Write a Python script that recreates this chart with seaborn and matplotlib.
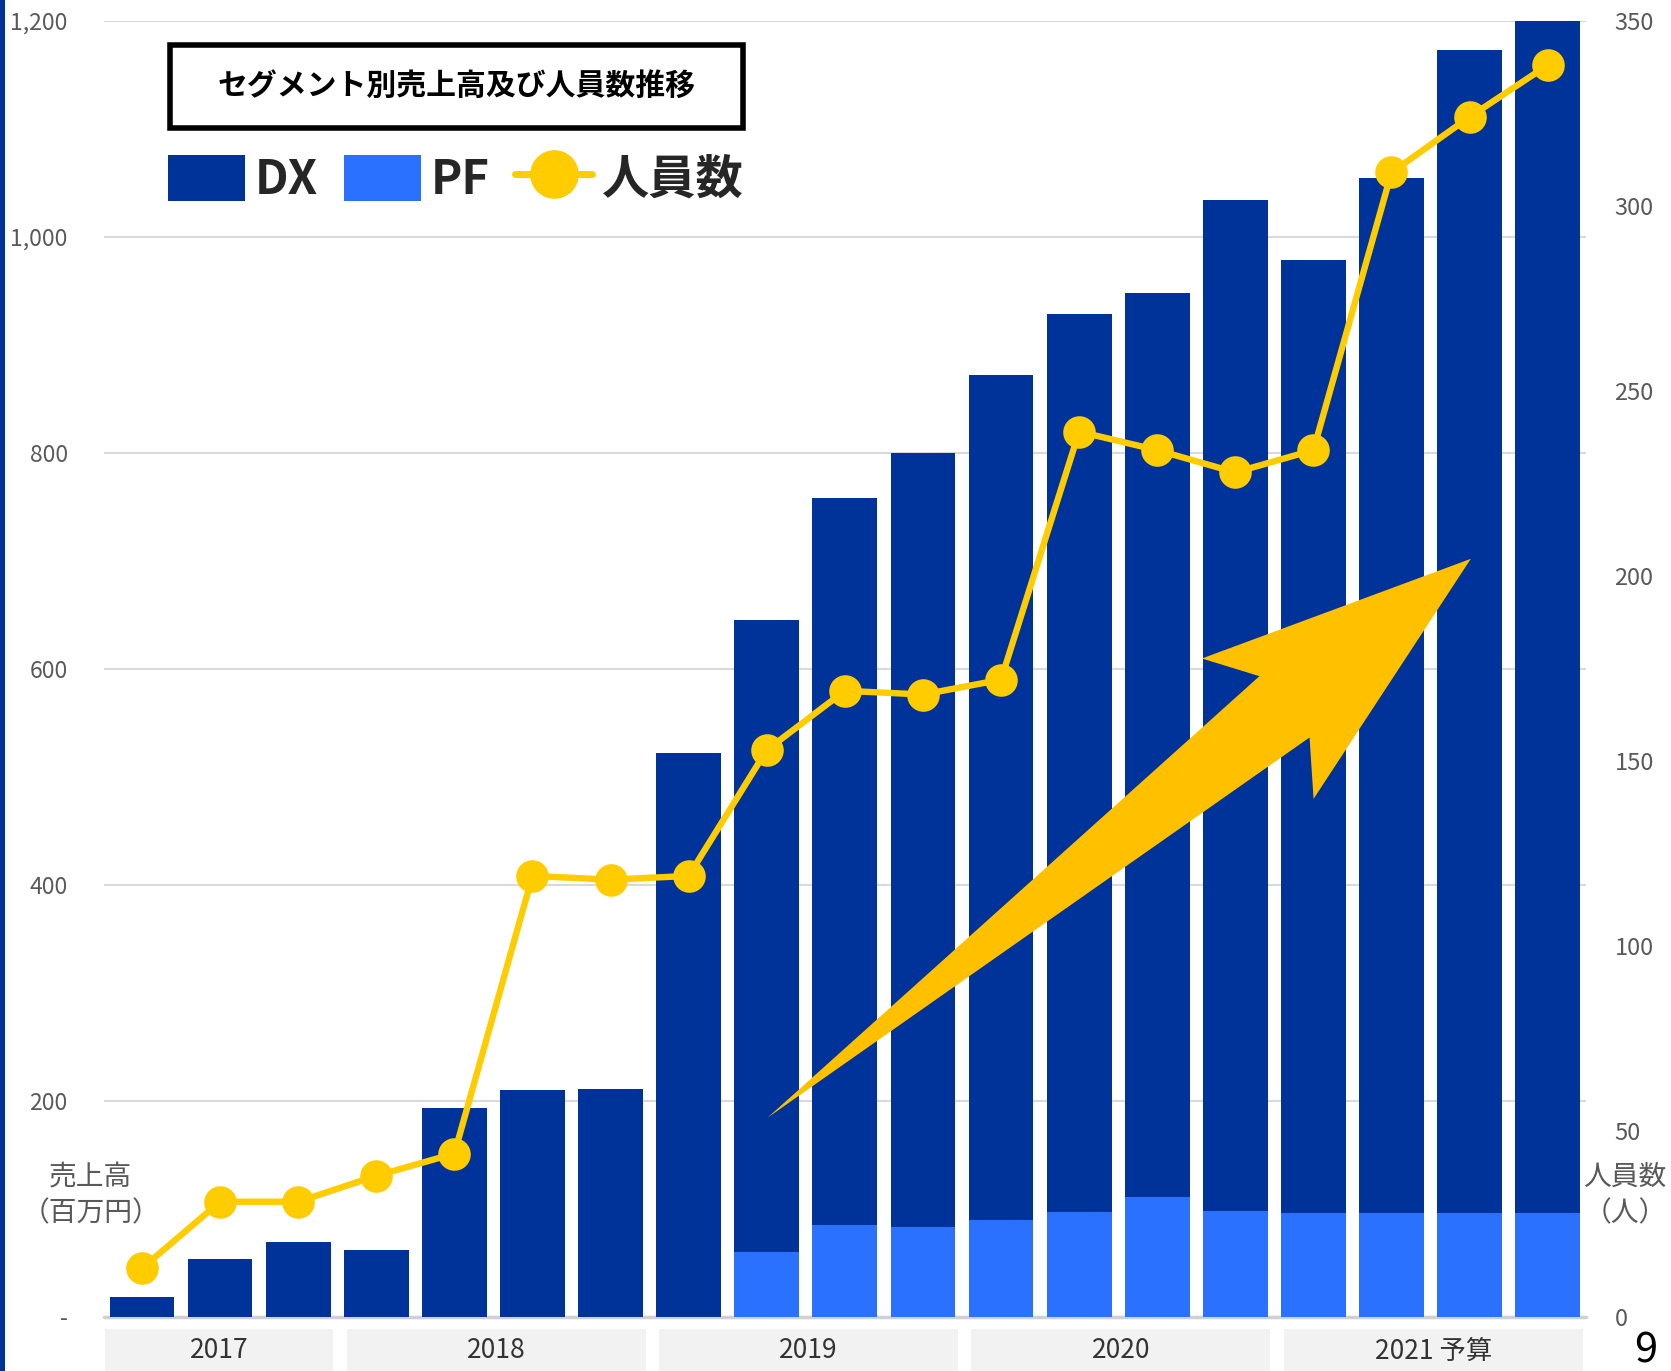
import numpy as np
import pandas as pd
import matplotlib
matplotlib.use("Agg")
import matplotlib.pyplot as plt
from matplotlib.patches import Rectangle, Polygon, Patch
from matplotlib.lines import Line2D
import seaborn as sns

# Quarterly segment sales (million yen) and headcount
periods = [
    "2017Q2", "2017Q3", "2017Q4",
    "2018Q1", "2018Q2", "2018Q3", "2018Q4",
    "2019Q1", "2019Q2", "2019Q3", "2019Q4",
    "2020Q1", "2020Q2", "2020Q3", "2020Q4",
    "2021Q1", "2021Q2", "2021Q3", "2021Q4",
]
dx_sales = [18, 53, 69, 62, 193, 210, 211, 522, 585, 673, 717, 783, 831, 837, 936, 882, 958, 1077, 1104]
pf_sales = [0, 0, 0, 0, 0, 0, 0, 0, 60, 85, 83, 89, 97, 111, 98, 96, 96, 96, 96]
headcount = [13, 31, 31, 38, 44, 119, 118, 119, 153, 169, 168, 172, 239, 234, 228, 234, 309, 324, 338]

year_groups = ["2017", "2018", "2019", "2020", "2021 予算"]
quarters_per_year = [3, 4, 4, 4, 4]

sales_ticks = [0, 200, 400, 600, 800, 1000, 1200]
sales_tick_labels = ["-", "200", "400", "600", "800", "1,000", "1,200"]
staff_ticks = [0, 50, 100, 150, 200, 250, 300, 350]

DX_COLOR = "#003399"
PF_COLOR = "#2B71FF"
LINE_COLOR = "#FFCC00"
ARROW_COLOR = "#FFC000"
TEXT_GRAY = "#595959"

sns.set_theme(style="white")
plt.rcParams["font.family"] = ["Noto Sans CJK JP", "DejaVu Sans"]

df = pd.DataFrame({"period": periods, "DX": dx_sales, "PF": pf_sales, "staff": headcount})
df["total"] = df["DX"] + df["PF"]

fig = plt.figure(figsize=(16.71, 13.71), dpi=100)
fig.patch.set_facecolor("white")
ax = fig.add_axes([0.0622, 0.03975, 0.9491 - 0.0622, 0.9849 - 0.03975])

# Stacked bars: full total in DX colour, PF drawn over the lower part
sns.barplot(data=df, x="period", y="total", color=DX_COLOR, width=0.83,
            linewidth=0, saturation=1, errorbar=None, ax=ax, zorder=2)
sns.barplot(data=df, x="period", y="PF", color=PF_COLOR, width=0.83,
            linewidth=0, saturation=1, errorbar=None, ax=ax, zorder=3)

xlim = (-0.487, 18.49)
ax.set_xlim(*xlim)
ax.set_ylim(0, 1200)
ax.set_yticks(sales_ticks, sales_tick_labels)
ax.yaxis.grid(True, color="#d9d9d9", linewidth=1.5)
ax.set_axisbelow(True)
ax.axhline(0, color="#d0d0d0", linewidth=2.5, zorder=1, clip_on=False)
ax.tick_params(axis="y", length=0, pad=26, labelsize=16.5, labelcolor=TEXT_GRAY)
ax.tick_params(axis="x", length=0, labelbottom=False)
ax.set_xlabel("")
ax.set_ylabel("")
for s in ax.spines.values():
    s.set_visible(False)

# Headcount line on the secondary axis
ax2 = ax.twinx()
sns.pointplot(data=df, x="period", y="staff", color=LINE_COLOR, markers="o",
              markersize=20, linewidth=4.6, errorbar=None, ax=ax2)
ax2.set_xlim(*xlim)
ax2.set_ylim(0, 350)
ax2.set_yticks(staff_ticks)
ax2.tick_params(axis="y", length=0, pad=20.6, labelsize=17, labelcolor=TEXT_GRAY)
ax2.grid(False)
ax2.set_xlabel("")
ax2.set_ylabel("")
for s in ax2.spines.values():
    s.set_visible(False)

# Year bands below the bars
trans = ax.get_xaxis_transform()
start = 0
for label, n in zip(year_groups, quarters_per_year):
    end = start + n - 1
    left = xlim[0] + 0.015 if start == 0 else start - 0.38
    right = end + 0.45
    ax.add_patch(Rectangle((left, -0.045), right - left, 0.0354, transform=trans,
                           facecolor="#f2f2f2", edgecolor="none", clip_on=False))
    ax.text((left + right) / 2, -0.0266, label, transform=trans, ha="center",
            va="center", fontsize=19, color="#333333", clip_on=False)
    start += n

# Axis captions
fig.text(0.0542, 0.1284, "売上高\n（百万円）", ha="center", va="center",
         fontsize=20, color=TEXT_GRAY, linespacing=1.25)
fig.text(0.9725, 0.1284, "人員数\n（人）", ha="center", va="center",
         fontsize=20, color=TEXT_GRAY, linespacing=1.25)

# Title box
fig.add_artist(Rectangle((0.1020, 0.9067), 0.3425, 0.0606, transform=fig.transFigure,
                         fill=False, edgecolor="black", linewidth=4, zorder=5))
fig.text(0.2733, 0.9370, "セグメント別売上高及び人員数推移", ha="center", va="center",
         fontsize=21.5, fontweight="bold", color="black")

# Legend
handles = [
    Patch(facecolor=DX_COLOR, edgecolor="none"),
    Patch(facecolor=PF_COLOR, edgecolor="none"),
    Line2D([], [], color=LINE_COLOR, marker="o", markersize=34, linewidth=5),
]
fig.legend(handles, ["DX", "PF", "人員数"], loc="upper left",
           bbox_to_anchor=(0.1008, 0.887), ncol=3, frameon=False,
           prop={"size": 34, "weight": "bold"}, handlelength=1.63,
           handleheight=1.12, handletextpad=0.2, columnspacing=0.55,
           borderpad=0, borderaxespad=0)

# Growth arrow
arrow_pts = [(0.4594, 0.1848), (0.7537, 0.5068), (0.7193, 0.5197),
             (0.8802, 0.5924), (0.7861, 0.4173), (0.7837, 0.4621)]
fig.add_artist(Polygon(arrow_pts, closed=True, transform=fig.transFigure,
                       facecolor=ARROW_COLOR, edgecolor="none", zorder=6))

# Left accent stripe
fig.add_artist(Rectangle((0, 0), 5 / 1671, 1, transform=fig.transFigure,
                         facecolor=DX_COLOR, edgecolor="none", zorder=6))

# Page number
fig.text(0.9847, 0.0146, "9", ha="center", va="center", fontsize=30, color="black")

fig.savefig("out.png", dpi=100)
